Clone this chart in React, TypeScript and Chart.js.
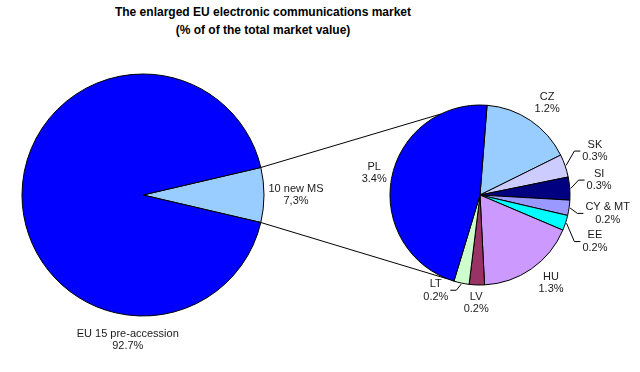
import React, { useEffect, useRef } from 'react';
import { Chart, registerables } from 'chart.js';
Chart.register(...registerables);

// ---------- data ----------
const titleLines = ['The enlarged EU electronic communications market', '(% of of the total market value)'];

const outerCategories = ['10 new MS', 'EU 15 pre-accession'];
const outerValues = [7.3, 92.7];
const outerValueText = ['7,3%', '92.7%'];
const outerColors = ['#99CCFF', '#0000FF'];

const innerCategories = ['CZ', 'SK', 'SI', 'CY & MT', 'EE', 'HU', 'LV', 'LT', 'PL'];
const innerValues = [1.2, 0.3, 0.3, 0.2, 0.2, 1.3, 0.2, 0.2, 3.4];
const innerValueText = ['1.2%', '0.3%', '0.3%', '0.2%', '0.2%', '1.3%', '0.2%', '0.2%', '3.4%'];
const innerColors = ['#99CCFF', '#CCCCFF', '#000080', '#9999FF', '#00FFFF', '#CC99FF', '#993366', '#CCFFCC', '#0000FF'];

// ---------- label placement (style) ----------
const outerLabelShift = [0, -84];
const outerLabelGap = [32, 25];
const outerLeader = [false, false];
const innerLabelShift = [2, -2, -3, 0, 4, -4, 0, 13, 1];
const innerLabelGap = [24, 33, 30, 39, 34, 23, 18, 15, 18];
const innerLeader = [false, true, true, true, true, false, false, true, false];

const FONT = '"Liberation Sans", Arial, sans-serif';
const DEG = Math.PI / 180;

function labelPlugin(names: string[], texts: string[], shifts: number[], gaps: number[], leaders: boolean[]) {
  return {
    id: 'sliceLabels',
    afterDraw(chart: any) {
      const ctx = chart.ctx;
      const arcs = chart.getDatasetMeta(0).data;
      ctx.save();
      ctx.font = `11px ${FONT}`;
      ctx.fillStyle = '#1a1a1a';
      ctx.textAlign = 'center';
      ctx.textBaseline = 'middle';
      arcs.forEach((arc: any, i: number) => {
        const { x, y, startAngle, endAngle, outerRadius } = arc.getProps(['x', 'y', 'startAngle', 'endAngle', 'outerRadius'], true);
        const mid = (startAngle + endAngle) / 2;
        const a = mid + shifts[i] * DEG;
        const R = outerRadius + gaps[i];
        const lx = x + R * Math.cos(a);
        const ly = y + R * Math.sin(a);
        const lines = [names[i], texts[i]];
        const lh = 12.5;
        lines.forEach((t, k) => ctx.fillText(t, lx, ly + (k - 0.5) * lh));
        if (leaders[i]) {
          const w = Math.max(...lines.map((t) => ctx.measureText(t).width));
          const right = lx > x;
          const edge = right ? lx - w / 2 - 2 : lx + w / 2 + 2;
          const elbow = right ? edge - 6 : edge + 6;
          ctx.beginPath();
          ctx.moveTo(x + (outerRadius + 1) * Math.cos(mid), y + (outerRadius + 1) * Math.sin(mid));
          ctx.lineTo(elbow, ly);
          ctx.lineTo(edge, ly);
          ctx.strokeStyle = '#000';
          ctx.lineWidth = 1;
          ctx.stroke();
        }
      });
      ctx.restore();
    },
  };
}

export default function App() {
  const leftRef = useRef<HTMLCanvasElement>(null);
  const rightRef = useRef<HTMLCanvasElement>(null);

  useEffect(() => {
    document.body.style.margin = '0';
    const common = {
      responsive: false,
      animation: false as const,
      events: [],
      plugins: { legend: { display: false }, tooltip: { enabled: false }, title: { display: false } },
    };
    const outerRotation = 90 - (outerValues[0] / outerValues.reduce((a, b) => a + b, 0)) * 180;
    const left = new Chart(leftRef.current!, {
      type: 'pie',
      data: {
        labels: outerCategories,
        datasets: [{
          data: outerValues,
          backgroundColor: outerColors,
          borderColor: '#000',
          borderWidth: 1,
          rotation: outerRotation,
          radius: 121,
        } as any],
      },
      options: {
        ...common,
        layout: { padding: { left: 0, right: 354, top: 18, bottom: 0 } },
        rotation: outerRotation,
        radius: 121,
      } as any,
      plugins: [labelPlugin(outerCategories, outerValueText, outerLabelShift, outerLabelGap, outerLeader)],
    });

    const connector = {
      id: 'connector',
      afterDraw(chart: any) {
        const src = left.getDatasetMeta(0).data[0] as any;
        const s = src.getProps(['x', 'y', 'startAngle', 'endAngle', 'outerRadius'], true);
        const dst = chart.getDatasetMeta(0).data[0] as any;
        const d = dst.getProps(['x', 'y', 'outerRadius'], true);
        const ctx = chart.ctx;
        const pairs = [
          [s.startAngle, -116 * DEG],
          [s.endAngle, 111.5 * DEG],
        ];
        ctx.save();
        ctx.strokeStyle = '#000';
        ctx.lineWidth = 1;
        pairs.forEach(([a, b]) => {
          ctx.beginPath();
          ctx.moveTo(s.x + s.outerRadius * Math.cos(a), s.y + s.outerRadius * Math.sin(a));
          ctx.lineTo(d.x + d.outerRadius * Math.cos(b), d.y + d.outerRadius * Math.sin(b));
          ctx.stroke();
        });
        ctx.restore();
      },
    };

    const right = new Chart(rightRef.current!, {
      type: 'pie',
      data: {
        labels: innerCategories,
        datasets: [{
          data: innerValues,
          backgroundColor: innerColors,
          borderColor: '#000',
          borderWidth: 1,
          rotation: 4.5,
          radius: 90,
        } as any],
      },
      options: {
        ...common,
        layout: { padding: { left: 320, right: 0, top: 18, bottom: 0 } },
        rotation: 4.5,
        radius: 90,
      } as any,
      plugins: [connector, labelPlugin(innerCategories, innerValueText, innerLabelShift, innerLabelGap, innerLeader)],
    });

    return () => {
      right.destroy();
      left.destroy();
    };
  }, []);

  return (
    <div style={{ position: 'fixed', left: 0, top: 0, width: 640, height: 372, background: '#fff', overflow: 'hidden' }}>
      <div
        style={{
          position: 'absolute', left: 0, top: 3, width: 526, textAlign: 'center',
          font: `bold 12px ${FONT}`, lineHeight: '18px', color: '#000',
        }}
      >
        {titleLines.map((t) => (<div key={t}>{t}</div>))}
      </div>
      <canvas ref={leftRef} width={640} height={372} style={{ position: 'absolute', left: 0, top: 0 }} />
      <canvas ref={rightRef} width={640} height={372} style={{ position: 'absolute', left: 0, top: 0 }} />
    </div>
  );
}
